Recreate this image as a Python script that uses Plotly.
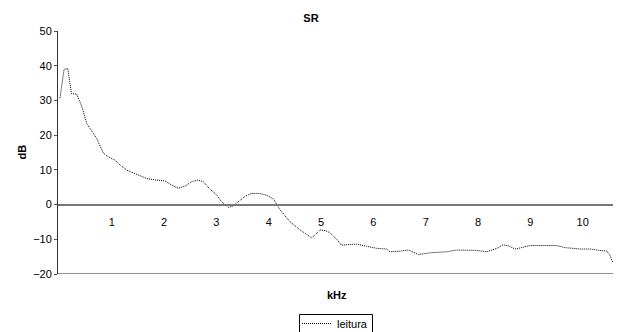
import plotly.graph_objects as go

freq_khz = [0.01, 0.09, 0.16, 0.23, 0.33, 0.43, 0.52, 0.62, 0.71, 0.84, 0.93, 1.06, 1.16, 1.29,
            1.44, 1.54, 1.67, 1.83, 2.02, 2.15, 2.27, 2.40, 2.53, 2.65, 2.75, 2.88, 3.01, 3.10,
            3.23, 3.32, 3.42, 3.55, 3.67, 3.83, 3.96, 4.09, 4.22, 4.41, 4.60, 4.73, 4.82, 4.88,
            4.98, 5.08, 5.17, 5.30, 5.39, 5.55, 5.68, 5.87, 6.06, 6.25, 6.32, 6.51, 6.67, 6.86,
            7.08, 7.40, 7.59, 7.97, 8.17, 8.36, 8.48, 8.58, 8.71, 8.83, 8.99, 9.50, 9.66, 9.95,
            10.14, 10.27, 10.46, 10.52, 10.57]
level_db = [30.6, 39.0, 39.2, 32.0, 31.8, 28.2, 23.4, 21.0, 19.1, 14.8, 13.8, 12.8, 11.4, 9.9,
            9.0, 8.5, 7.5, 7.1, 6.8, 5.6, 4.7, 5.3, 6.6, 7.1, 6.6, 4.4, 2.7, 0.8,
            -0.8, -0.4, 0.8, 2.4, 3.2, 3.2, 2.7, 1.6, -1.6, -5.0, -7.3, -8.8, -9.6, -8.8,
            -7.3, -7.5, -8.1, -10.0, -11.7, -11.5, -11.4, -12.0, -12.6, -12.8, -13.6, -13.4, -13.1, -14.4,
            -13.9, -13.6, -13.1, -13.2, -13.6, -12.6, -11.6, -11.9, -12.8, -12.4, -11.8, -11.8, -12.4, -12.8,
            -12.8, -13.1, -13.4, -14.6, -16.5]

x_ticks = [1, 2, 3, 4, 5, 6, 7, 8, 9, 10]
y_ticks = [-20, -10, 0, 10, 20, 30, 40, 50]

FONT = "Liberation Sans, Arial, sans-serif"
OFF = 8  # page body margin
W, H = 621 - OFF, 332 - OFF
PL, PT, PW, PH = 58, 31, 557, 243  # plot area in page pixels

def px_x(p):
    return (p - PL) / PW

def px_y(p):
    return (PT + PH - p) / PH

fig = go.Figure()
fig.add_trace(go.Scatter(
    x=freq_khz, y=level_db, mode="lines", name="leitura",
    line=dict(color="#000000", width=1, dash="1px,1px"),
))

y_min, y_max = -20, 50
zero_pos = (0 - y_min) / (y_max - y_min)

fig.update_layout(
    width=W, height=H,
    margin=dict(l=PL - OFF, r=W - (PL - OFF) - PW, t=PT - OFF, b=H - (PT - OFF) - PH,
                autoexpand=False),
    paper_bgcolor="white", plot_bgcolor="white",
    font=dict(family=FONT, size=11, color="#000000"),
    title=dict(text="<b>SR</b>", x=(311 - OFF) / W, xanchor="center", xref="container",
               yref="container", y=1 - (14 - OFF) / H, yanchor="top",
               font=dict(family=FONT, size=11, color="#000000")),
    xaxis=dict(range=[-0.027, 10.617], tickvals=x_ticks, ticktext=[str(v) for v in x_ticks],
               anchor="free", position=zero_pos, showline=True, linecolor="#777777", linewidth=2,
               showgrid=False, zeroline=False, ticks="outside", ticklen=7,
               tickcolor="rgba(0,0,0,0)", tickfont=dict(family=FONT, size=11)),
    yaxis=dict(range=[y_min, y_max], tickvals=y_ticks, showgrid=False, zeroline=False,
               showline=True, linecolor="#333333", linewidth=1, ticks="outside", ticklen=3,
               tickcolor="#555555", tickfont=dict(family=FONT, size=11)),
    showlegend=True,
    legend=dict(xref="container", yref="container", x=(297 - OFF) / W, y=1 - (309 - OFF) / H,
                xanchor="left", yanchor="top", borderwidth=0, bgcolor="rgba(0,0,0,0)",
                font=dict(family=FONT, size=11), itemwidth=30, tracegroupgap=0),
)

fig.add_shape(type="line", xref="paper", yref="y", x0=0, x1=1, y0=y_min, y1=y_min,
              line=dict(color="#6b6b6b", width=1.5))
# legend frame
fig.add_shape(type="rect", xref="paper", yref="paper",
              x0=px_x(299.5), x1=px_x(372.5), y0=px_y(314.5), y1=px_y(340),
              line=dict(color="#000000", width=1), fillcolor="rgba(0,0,0,0)")

fig.add_annotation(text="<b>dB</b>", xref="paper", yref="paper", x=px_x(21), y=0.5,
                   xanchor="center", yanchor="middle", textangle=-90, showarrow=False,
                   font=dict(family=FONT, size=11))
fig.add_annotation(text="<b>kHz</b>", xref="paper", yref="paper", x=0.5, y=px_y(295),
                   xanchor="center", yanchor="middle", showarrow=False,
                   font=dict(family=FONT, size=11))

fig.write_html("out.html")
